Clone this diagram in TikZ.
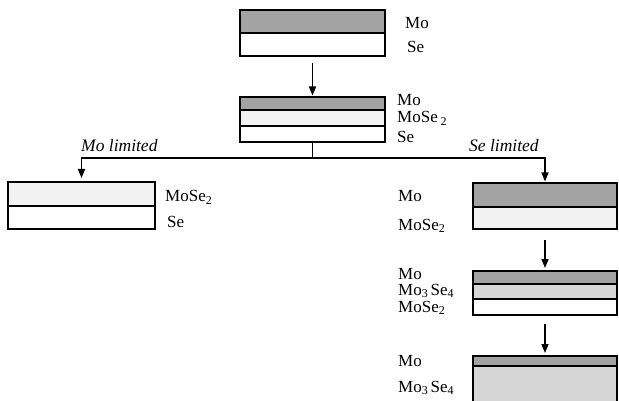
\documentclass[tikz,border=0pt]{standalone}
\usepackage{fontspec}
\setmainfont{Liberation Serif}
\usetikzlibrary{arrows.meta}
\definecolor{molayer}{gray}{0.64}
\definecolor{mothree}{gray}{0.84}
\definecolor{mosetwo}{gray}{0.95}
\newcommand\lsub[1]{\raisebox{-0.28ex}{\fontsize{12}{12}\selectfont #1}}
\tikzset{
  layer/.style={draw=black, line width=1.6pt, anchor=north west, inner sep=0pt, outer sep=0pt},
  lab/.style={anchor=base west, inner sep=0pt, font=\fontsize{17}{17}\selectfont},
  cond/.style={anchor=base west, inner sep=0pt, font=\fontsize{17.5}{17.5}\selectfont\itshape},
  arr/.style={line width=1.6pt, -{Triangle[length=9pt, width=7pt]}},
  wire/.style={line width=1.6pt}
}
\begin{document}
\begin{tikzpicture}[x=1pt, y=-1pt]
\useasboundingbox (0,0) rectangle (619,401);

% starting stack: Mo on Se
\node[layer, fill=molayer, minimum width=145pt, minimum height=23pt] (a1) at (240,10) {};
\node[layer, fill=white,   minimum width=145pt, minimum height=23pt] (a2) at (240,33) {};
\node[lab] at (405,29) {Mo};
\node[lab] at (407,53) {Se};

% interface reaction
\node[layer, fill=molayer, minimum width=145pt, minimum height=13pt] (b1) at (240,97) {};
\node[layer, fill=mosetwo, minimum width=145pt, minimum height=16pt] (b2) at (240,110) {};
\node[layer, fill=white,   minimum width=145pt, minimum height=16pt] (b3) at (240,126) {};
\node[lab] at (397,106) {Mo};
\node[lab] at (397,123) {MoSe\,\lsub{2}};
\node[lab] at (397,143) {Se};

% Mo limited branch
\node[layer, fill=mosetwo, minimum width=147pt, minimum height=24pt] (l1) at (8,182) {};
\node[layer, fill=white,   minimum width=147pt, minimum height=23pt] (l2) at (8,206) {};
\node[lab] at (165,202) {MoSe\lsub{2}};
\node[lab] at (167,228) {Se};

% Se limited branch
\node[layer, fill=molayer, minimum width=144pt, minimum height=25pt] (r1) at (473,183) {};
\node[layer, fill=mosetwo, minimum width=144pt, minimum height=22pt] (r2) at (473,207) {};
\node[lab] at (398,202) {Mo};
\node[lab] at (398,230) {MoSe\lsub{2}};

\node[layer, fill=molayer, minimum width=144pt, minimum height=13pt] (s1) at (473,271) {};
\node[layer, fill=mothree, minimum width=144pt, minimum height=15pt] (s2) at (473,284) {};
\node[layer, fill=white,   minimum width=144pt, minimum height=16pt] (s3) at (473,299) {};
\node[lab] at (398,279) {Mo};
\node[lab] at (398,295) {Mo\lsub{3}\,Se\lsub{4}};
\node[lab] at (398,312) {MoSe\lsub{2}};

\node[layer, fill=molayer, minimum width=144pt, minimum height=10pt] (u1) at (473,356) {};
\node[layer, fill=mothree, minimum width=144pt, minimum height=40pt] (u2) at (473,366) {};
\node[lab] at (398,366) {Mo};
\node[lab] at (398,392) {Mo\lsub{3}\,Se\lsub{4}};

% branch labels
\node[cond] (ml) at (81,152) {Mo limited};
\node[cond] (sl) at (469,152) {Se limited};

% connectors
\draw[arr, shorten <=7pt, shorten >=1.5pt] (a2.south) -- (b1.north);
\coordinate (split) at (312.5,158);
\draw[wire] (b3.south) -- (split);
\draw[arr, shorten >=4pt] (split) -| (l1.north);
\draw[arr, shorten >=1.5pt] (split) -| (r1.north);
\draw[arr, shorten <=11pt, shorten >=3pt] (r2.south) -- (s1.north);
\draw[arr, shorten <=9pt, shorten >=3pt] (s3.south) -- (u1.north);
\end{tikzpicture}
\end{document}
